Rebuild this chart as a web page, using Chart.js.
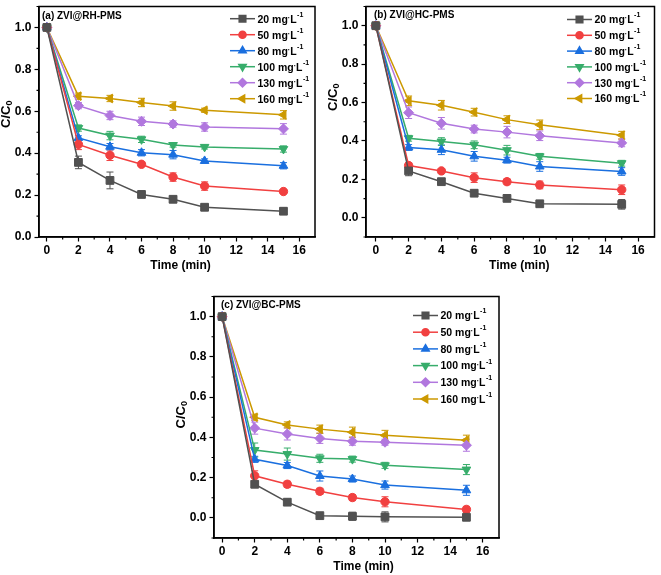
<!DOCTYPE html>
<html lang="en">
<head>
    <meta charset="UTF-8">
    <title>C/C0 vs time</title>
    <script src="https://cdn.jsdelivr.net/npm/chart.js"></script>
    <style>
        body { margin: 0; background: #ffffff; }
        .wrap { position: relative; width: 661px; height: 575px; }
        canvas { position: absolute; }
    </style>
</head>
<body>
<div class="wrap">
    <canvas id="chartA" style="left:0px;top:0px"></canvas>
    <canvas id="chartB" style="left:327px;top:0px"></canvas>
    <canvas id="chartC" style="left:175px;top:290px"></canvas>
</div>
<script>
// sampling times (min)
const timeMin = [0, 2, 4, 6, 8, 10, 15];
const doses = ['20', '50', '80', '100', '130', '160'];
const xTickLabels = [0, 2, 4, 6, 8, 10, 12, 14, 16];
const yTickLabels = [0.0, 0.2, 0.4, 0.6, 0.8, 1.0];

// (a) ZVI@RH-PMS, one row per dose
const rhValues = [
    [1, 0.356, 0.270, 0.203, 0.180, 0.142, 0.123],
    [1, 0.442, 0.390, 0.347, 0.286, 0.243, 0.217],
    [1, 0.473, 0.431, 0.402, 0.393, 0.363, 0.340],
    [1, 0.520, 0.484, 0.466, 0.439, 0.430, 0.420],
    [1, 0.627, 0.580, 0.552, 0.539, 0.525, 0.516],
    [1, 0.672, 0.661, 0.642, 0.625, 0.605, 0.583]
];
const rhErrors = [
    [0, 0.030, 0.040, 0.015, 0.015, 0.010, 0.015],
    [0, 0.025, 0.025, 0.010, 0.020, 0.020, 0.010],
    [0, 0.010, 0.015, 0.015, 0.020, 0.010, 0.015],
    [0, 0.015, 0.020, 0.015, 0.010, 0.010, 0.015],
    [0, 0.015, 0.020, 0.020, 0.015, 0.020, 0.025],
    [0, 0.015, 0.015, 0.020, 0.020, 0.010, 0.020]
];

// (b) ZVI@HC-PMS
const hcValues = [
    [1, 0.244, 0.188, 0.128, 0.101, 0.073, 0.070],
    [1, 0.272, 0.244, 0.209, 0.188, 0.171, 0.146],
    [1, 0.366, 0.354, 0.320, 0.300, 0.267, 0.241],
    [1, 0.414, 0.397, 0.380, 0.352, 0.320, 0.284],
    [1, 0.547, 0.492, 0.462, 0.446, 0.427, 0.390],
    [1, 0.609, 0.586, 0.550, 0.511, 0.484, 0.430]
];
const hcErrors = [
    [0, 0.025, 0.015, 0.015, 0.010, 0.010, 0.025],
    [0, 0.015, 0.010, 0.025, 0.015, 0.020, 0.025],
    [0, 0.015, 0.025, 0.025, 0.015, 0.025, 0.020],
    [0, 0.015, 0.020, 0.020, 0.025, 0.015, 0.015],
    [0, 0.030, 0.030, 0.020, 0.030, 0.025, 0.020],
    [0, 0.025, 0.025, 0.020, 0.020, 0.025, 0.020]
];

// (c) ZVI@BC-PMS
const bcValues = [
    [1, 0.167, 0.078, 0.011, 0.008, 0.005, 0.003],
    [1, 0.209, 0.167, 0.132, 0.101, 0.080, 0.042],
    [1, 0.291, 0.260, 0.208, 0.193, 0.163, 0.137],
    [1, 0.337, 0.317, 0.296, 0.292, 0.261, 0.240],
    [1, 0.446, 0.417, 0.395, 0.381, 0.376, 0.361],
    [1, 0.500, 0.462, 0.441, 0.426, 0.410, 0.386]
];
const bcErrors = [
    [0, 0.010, 0.015, 0.010, 0.020, 0.025, 0.015],
    [0, 0.025, 0.015, 0.015, 0.015, 0.025, 0.015],
    [0, 0.015, 0.015, 0.025, 0.015, 0.020, 0.025],
    [0, 0.035, 0.030, 0.020, 0.015, 0.015, 0.025],
    [0, 0.030, 0.030, 0.025, 0.020, 0.015, 0.030],
    [0, 0.015, 0.015, 0.020, 0.025, 0.025, 0.025]
];

// Origin "Bold" palette + marker shapes
const colors = ['#515151', '#F14040', '#1A6FDF', '#37AD6B', '#B177DE', '#CC9900'];
const markers = [
    { style: 'rect', rot: 0, r: 5.5 },
    { style: 'circle', rot: 0, r: 4.2 },
    { style: 'triangle', rot: 0, r: 5 },
    { style: 'triangle', rot: 180, r: 5 },
    { style: 'rectRot', rot: 0, r: 5 },
    { style: 'triangle', rot: 270, r: 5 }
];

const FONT = "'Liberation Sans', Arial, sans-serif";
Chart.defaults.font.family = FONT;
Chart.defaults.color = '#000';

const isLabel = (list, v) => list.some(l => Math.abs(l - v) < 1e-6);

// frame, minor ticks, error bars, legend, panel label and axis titles
const decorations = {
    id: 'decorations',
    beforeDatasetsDraw(chart) {
        const { ctx, scales: { x, y } } = chart;
        ctx.save();
        ctx.lineWidth = 1;
        chart.data.datasets.forEach(ds => {
            ctx.strokeStyle = ds.borderColor;
            ds.data.forEach((p, j) => {
                const e = ds.errors[j];
                if (!e) return;
                const px = x.getPixelForValue(p.x);
                const y1 = y.getPixelForValue(p.y + e);
                const y2 = y.getPixelForValue(p.y - e);
                ctx.beginPath();
                ctx.moveTo(px, y1); ctx.lineTo(px, y2);
                ctx.moveTo(px - 3.5, y1); ctx.lineTo(px + 3.5, y1);
                ctx.moveTo(px - 3.5, y2); ctx.lineTo(px + 3.5, y2);
                ctx.stroke();
            });
        });
        ctx.restore();
    },
    afterDraw(chart, args, opts) {
        const { ctx, chartArea: a, scales: { x, y } } = chart;
        ctx.save();
        // box
        ctx.strokeStyle = '#000';
        ctx.lineWidth = 1.5;
        ctx.strokeRect(a.left, a.top, a.right - a.left, a.bottom - a.top);

        // minor ticks (shorter)
        ctx.lineWidth = 1.2;
        ctx.beginPath();
        x.ticks.forEach(t => {
            if (isLabel(xTickLabels, t.value)) return;
            const px = x.getPixelForValue(t.value);
            ctx.moveTo(px, a.bottom); ctx.lineTo(px, a.bottom + 2.5);
        });
        y.ticks.forEach(t => {
            if (isLabel(yTickLabels, t.value)) return;
            const py = y.getPixelForValue(t.value);
            ctx.moveTo(a.left, py); ctx.lineTo(a.left - 2.5, py);
        });
        ctx.stroke();

        // panel label
        ctx.fillStyle = '#000';
        ctx.font = 'bold 10px ' + FONT;
        ctx.textBaseline = 'middle';
        ctx.textAlign = 'left';
        ctx.fillText(opts.label, a.left + opts.labelDx, a.top + opts.labelDy);

        // legend
        chart.data.datasets.forEach((ds, i) => {
            const ly = a.top + opts.legendDy + i * opts.legendGap;
            const lx = a.left + opts.legendDx;
            ctx.strokeStyle = ds.borderColor;
            ctx.fillStyle = ds.borderColor;
            ctx.lineWidth = 1.5;
            ctx.beginPath();
            ctx.moveTo(lx, ly); ctx.lineTo(lx + 25, ly);
            ctx.stroke();
            Chart.helpers.drawPoint(ctx, {
                pointStyle: ds.pointStyle, rotation: ds.pointRotation,
                radius: ds.pointRadius * 0.85, borderWidth: 1
            }, lx + 12.5, ly);
            ctx.fillStyle = '#000';
            const tx = lx + 27.5;
            ctx.font = 'bold 10.5px ' + FONT;
            const t1 = doses[i] + ' mg';
            ctx.fillText(t1, tx, ly + 1);
            let w = ctx.measureText(t1).width;
            ctx.font = 'bold 7px ' + FONT;
            ctx.fillText('\u00B7', tx + w, ly - 1);
            w += ctx.measureText('\u00B7').width;
            ctx.font = 'bold 10.5px ' + FONT;
            ctx.fillText('L', tx + w, ly + 1);
            w += ctx.measureText('L').width;
            ctx.font = 'bold 7px ' + FONT;
            ctx.fillText('-1', tx + w + 0.5, ly - 4);
        });

        // axis titles
        ctx.fillStyle = '#000';
        ctx.font = 'bold 12px ' + FONT;
        ctx.textAlign = 'center';
        ctx.fillText('Time (min)', (a.left + a.right) / 2 + opts.xTitleDx, a.bottom + 29);

        ctx.translate(6, (a.top + a.bottom) / 2 + opts.yTitleDy);
        ctx.rotate(-Math.PI / 2);
        ctx.textAlign = 'left';
        ctx.font = 'bold 13px ' + FONT;
        const c1 = 'C/C';
        const w1 = ctx.measureText(c1).width;
        ctx.fillText(c1, -(w1 + 6) / 2, 0);
        ctx.font = 'bold 9px ' + FONT;
        ctx.fillText('0', -(w1 + 6) / 2 + w1, 4);
        ctx.restore();
    }
};

function makePanel(id, w, h, pad, xMin, xMax, yMin, values, errors, opts) {
    const canvas = document.getElementById(id);
    canvas.width = w;
    canvas.height = h;
    canvas.style.width = w + 'px';
    canvas.style.height = h + 'px';

    const datasets = values.map((row, i) => ({
        data: timeMin.map((t, j) => ({ x: t, y: row[j] })),
        errors: errors[i],
        borderColor: colors[i],
        backgroundColor: colors[i],
        borderWidth: 1.5,
        pointStyle: markers[i].style,
        pointRotation: markers[i].rot,
        pointRadius: markers[i].r,
        pointBorderWidth: 1,
        pointHoverRadius: markers[i].r,
        tension: 0
    }));

    const majorOnly = list => c => (c.tick && isLabel(list, c.tick.value)) ? '#000' : 'rgba(0,0,0,0)';

    return new Chart(canvas.getContext('2d'), {
        type: 'line',
        data: { datasets },
        options: {
            responsive: false,
            animation: false,
            devicePixelRatio: 1,
            layout: { padding: pad },
            plugins: {
                legend: { display: false },
                tooltip: { enabled: false },
                decorations: opts
            },
            scales: {
                x: {
                    type: 'linear',
                    min: xMin, max: xMax,
                    afterFit(s) {
                        s.height = opts.xHeight;
                        s.paddingLeft = 0; s.paddingRight = 0;
                    },
                    afterBuildTicks(s) {
                        const t = [];
                        for (let v = 0; v <= 16; v++) t.push({ value: v });
                        s.ticks = t;
                    },
                    ticks: {
                        autoSkip: false, maxRotation: 0, padding: 2,
                        font: { size: 12, weight: 'bold' },
                        callback: v => isLabel(xTickLabels, v) ? String(v) : ''
                    },
                    grid: { drawOnChartArea: false, tickLength: 4.5, tickColor: majorOnly(xTickLabels), tickWidth: 1.2 },
                    border: { color: '#000', width: 1.5 }
                },
                y: {
                    type: 'linear',
                    min: yMin, max: 1.1,
                    afterFit(s) {
                        s.width = 39;
                        s.paddingTop = 0; s.paddingBottom = 0;
                    },
                    afterBuildTicks(s) {
                        const t = [];
                        for (let k = Math.round(yMin * 10); k <= 11; k++) t.push({ value: k / 10 });
                        s.ticks = t;
                    },
                    ticks: {
                        autoSkip: false, padding: 3,
                        font: { size: 12, weight: 'bold' },
                        callback: v => isLabel(yTickLabels, v) ? v.toFixed(1) : ''
                    },
                    grid: { drawOnChartArea: false, tickLength: 4.5, tickColor: majorOnly(yTickLabels), tickWidth: 1.2 },
                    border: { color: '#000', width: 1.5 }
                }
            }
        },
        plugins: [decorations]
    });
}

makePanel('chartA', 325, 275, { top: 2.5, right: 10, bottom: 0, left: 0 }, -0.5, 17, 0, rhValues, rhErrors,
    { label: '(a) ZVI@RH-PMS', labelDx: 3, labelDy: 9.5, legendDx: 191, legendDy: 12.2, legendGap: 16,
      xHeight: 38, xTitleDx: 3.5, yTitleDy: -8 });
makePanel('chartB', 334, 275, { top: 1.7, right: 1, bottom: 0, left: 0 }, -0.6, 17, -0.1, hcValues, hcErrors,
    { label: '(b) ZVI@HC-PMS', labelDx: 8, labelDy: 9, legendDx: 201, legendDy: 13, legendGap: 15.8,
      xHeight: 38, xTitleDx: 9, yTitleDy: -25 });
makePanel('chartC', 334, 285, { top: 0.7, right: 10, bottom: 0, left: 0 }, -0.5, 17, -0.1, bcValues, bcErrors,
    { label: '(c) ZVI@BC-PMS', labelDx: 7, labelDy: 8.3, legendDx: 199, legendDy: 19, legendGap: 16.7,
      xHeight: 37, xTitleDx: 7, yTitleDy: -3 });
</script>
</body>
</html>
